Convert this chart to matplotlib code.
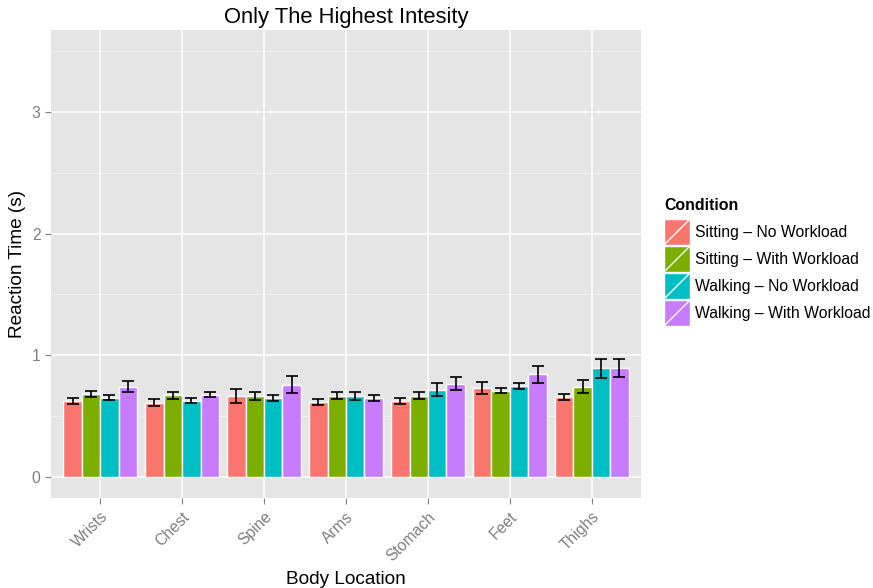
import numpy as np
import matplotlib.pyplot as plt
from matplotlib.patches import Rectangle

plt.rcParams['font.family'] = ['Liberation Sans', 'DejaVu Sans']

locations = ['Wrists', 'Chest', 'Spine', 'Arms', 'Stomach', 'Feet', 'Thighs']
conditions = ['Sitting \u2013 No Workload', 'Sitting \u2013 With Workload',
              'Walking \u2013 No Workload', 'Walking \u2013 With Workload']
colors = ['#F8766D', '#7CAE00', '#00BFC4', '#C77CFF']

# mean reaction time per location, one list per condition
sit_no = [0.624, 0.610, 0.662, 0.618, 0.626, 0.731, 0.657]
sit_with = [0.681, 0.670, 0.665, 0.668, 0.668, 0.709, 0.742]
walk_no = [0.651, 0.624, 0.648, 0.665, 0.717, 0.745, 0.893]
walk_with = [0.742, 0.676, 0.758, 0.648, 0.766, 0.841, 0.893]

# standard errors
sit_no_se = [0.025, 0.027, 0.056, 0.025, 0.025, 0.052, 0.023]
sit_with_se = [0.025, 0.029, 0.034, 0.029, 0.026, 0.019, 0.054]
walk_no_se = [0.023, 0.021, 0.022, 0.032, 0.051, 0.022, 0.078]
walk_with_se = [0.045, 0.022, 0.069, 0.022, 0.052, 0.066, 0.076]

means = [sit_no, sit_with, walk_no, walk_with]
errs = [sit_no_se, sit_with_se, walk_no_se, walk_with_se]

W, H = 873, 588
fig = plt.figure(figsize=(W / 100, H / 100), dpi=100)
ax = fig.add_axes([51 / W, 1 - 498 / H, (641 - 51) / W, (498 - 30) / H])

ax.set_facecolor('#E5E5E5')
for s in ax.spines.values():
    s.set_visible(False)

x = np.arange(len(locations)) + 1
dodge = 0.9
bw = dodge / len(conditions)

for y in [0.5, 1.5, 2.5, 3.5]:
    ax.axhline(y, color='#F2F2F2', lw=0.6, zorder=0)
for y in [0, 1, 2, 3]:
    ax.axhline(y, color='white', lw=1.1, zorder=0)
for xx in x:
    ax.axvline(xx, color='white', lw=1.1, zorder=0)

for i, (m, e) in enumerate(zip(means, errs)):
    pos = x - dodge / 2 + bw * (i + 0.5)
    ax.bar(pos, m, width=bw, color=colors[i], edgecolor='white', linewidth=1.0, zorder=2)
    ax.errorbar(pos, m, yerr=e, fmt='none', ecolor='black', elinewidth=1.2,
                capsize=4, capthick=1.2, zorder=3)

ax.set_xlim(0.4, len(locations) + 0.6)
ax.set_ylim(-0.175, 3.675)
ax.set_yticks([0, 1, 2, 3])
ax.set_xticks(x)
ax.set_xticklabels(locations, rotation=45, ha='right', va='top', rotation_mode='anchor')
ax.tick_params(axis='both', colors='#7F7F7F', labelcolor='#7F7F7F', labelsize=11.3,
               length=4, width=0.8)
ax.tick_params(axis='x', pad=4)

ax.set_title('Only The Highest Intesity', fontsize=15.8, pad=5)
ax.set_xlabel('Body Location', fontsize=13.7, labelpad=5)
ax.set_ylabel('Reaction Time (s)', fontsize=13.7, labelpad=4)

# legend drawn in pixel coordinates
lg = fig.add_axes([655 / W, 1 - 335 / H, (W - 655) / W, (335 - 190) / H])
lg.set_xlim(655, W)
lg.set_ylim(335, 190)
lg.axis('off')
lg.text(664, 206, 'Condition', fontsize=11.4, fontweight='bold', va='center', ha='left')
for i, lab in enumerate(conditions):
    top = 219 + 27 * i
    lg.add_patch(Rectangle((664, top), 26, 26, facecolor=colors[i], edgecolor='white', lw=1.0))
    lg.plot([664, 690], [top + 26, top], color='white', lw=1.0)
    lg.text(695, top + 13.5, lab, fontsize=11.3, va='center', ha='left')

fig.savefig('out.png', dpi=100)
